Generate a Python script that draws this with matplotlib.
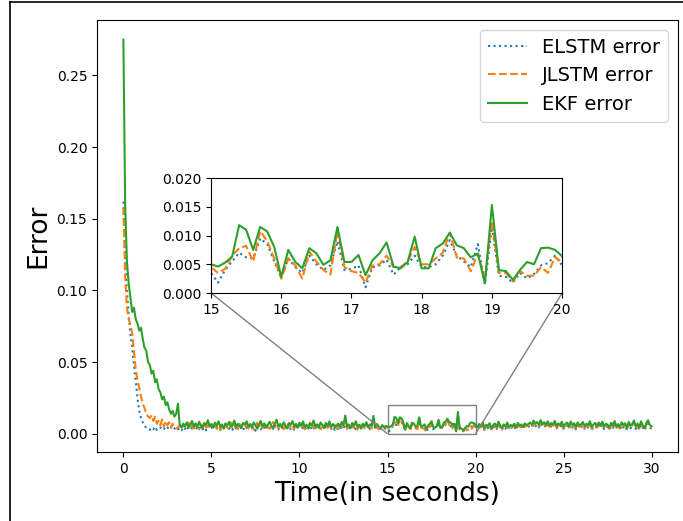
import numpy as np
import matplotlib
matplotlib.use("Agg")
import matplotlib.pyplot as plt
from matplotlib.lines import Line2D
from mpl_toolkits.axes_grid1.inset_locator import mark_inset

time = np.linspace(0, 30, 301)

ekf_error = [
    0.275, 0.160, 0.120, 0.105, 0.095, 0.085, 0.088, 0.080, 0.077, 0.072,
    0.074, 0.066, 0.060, 0.058, 0.050, 0.048, 0.042, 0.044, 0.036, 0.038,
    0.031, 0.029, 0.024, 0.026, 0.020, 0.022, 0.017, 0.014, 0.016, 0.012,
    0.014, 0.021,
    0.0060, 0.0045, 0.0070, 0.0052, 0.0080, 0.0041, 0.0065, 0.0090, 0.0050, 0.0072,
    0.0048, 0.0085, 0.0055, 0.0038, 0.0075, 0.0062, 0.0095, 0.0050, 0.0068, 0.0042,
    0.0078, 0.0055, 0.0088, 0.0047, 0.0065, 0.0036, 0.0072, 0.0058, 0.0083, 0.0049,
    0.0061, 0.0092, 0.0045, 0.0070, 0.0054, 0.0040, 0.0076, 0.0063, 0.0087, 0.0051,
    0.0068, 0.0044, 0.0079, 0.0058, 0.0035, 0.0066, 0.0090, 0.0052, 0.0073, 0.0047,
    0.0062, 0.0084, 0.0056, 0.0041, 0.0071, 0.0098, 0.0053, 0.0067, 0.0045, 0.0080,
    0.0059, 0.0038, 0.0074, 0.0063, 0.0089, 0.0050, 0.0069, 0.0043, 0.0077, 0.0056,
    0.0086, 0.0048, 0.0064, 0.0037, 0.0072, 0.0058, 0.0093, 0.0051, 0.0066, 0.0044,
    0.0079, 0.0061, 0.0040, 0.0075, 0.0055, 0.0087, 0.0049, 0.0068, 0.0046, 0.0057,
    0.0071, 0.0042, 0.0083, 0.0060, 0.0128, 0.0052, 0.0065, 0.0039, 0.0074, 0.0056,
    0.0088, 0.0047, 0.0063, 0.0036, 0.0070, 0.0054, 0.0081, 0.0045, 0.0066, 0.0058,
    0.0125, 0.0043, 0.0069, 0.0052, 0.0038, 0.0061, 0.0047, 0.0055,
    # 15.0 - 20.0
    0.0050, 0.0046, 0.0053, 0.0063, 0.0118, 0.0110, 0.0075, 0.0115, 0.0107, 0.0080,
    0.0028, 0.0075, 0.0054, 0.0043, 0.0078, 0.0069, 0.0049, 0.0057, 0.0115, 0.0054,
    0.0054, 0.0066, 0.0031, 0.0057, 0.0069, 0.0088, 0.0046, 0.0043, 0.0054, 0.0098,
    0.0043, 0.0043, 0.0078, 0.0086, 0.0105, 0.0083, 0.0078, 0.0062, 0.0069, 0.0017,
    0.0153, 0.0040, 0.0038, 0.0023, 0.0040, 0.0054, 0.0050, 0.0078, 0.0079, 0.0075,
    0.0064,
    # 20.1 - 30.0
    0.0045, 0.0068, 0.0052, 0.0080, 0.0041, 0.0063, 0.0055, 0.0074, 0.0038, 0.0060,
    0.0072, 0.0049, 0.0085, 0.0057, 0.0043, 0.0066, 0.0051, 0.0079, 0.0046, 0.0062,
    0.0054, 0.0070, 0.0042, 0.0076, 0.0059, 0.0065, 0.0048, 0.0073, 0.0061, 0.0068,
    0.0078, 0.0064, 0.0092, 0.0071, 0.0083, 0.0060, 0.0096, 0.0069, 0.0081, 0.0063,
    0.0087, 0.0058, 0.0075, 0.0066, 0.0090, 0.0055, 0.0072, 0.0062, 0.0084, 0.0050,
    0.0069, 0.0078, 0.0053, 0.0086, 0.0061, 0.0074, 0.0047, 0.0080, 0.0058, 0.0067,
    0.0082, 0.0052, 0.0071, 0.0060, 0.0088, 0.0045, 0.0066, 0.0076, 0.0054, 0.0079,
    0.0057, 0.0085, 0.0049, 0.0070, 0.0063, 0.0043, 0.0077, 0.0059, 0.0089, 0.0051,
    0.0068, 0.0046, 0.0080, 0.0062, 0.0074, 0.0040, 0.0083, 0.0056, 0.0069, 0.0093,
    0.0050, 0.0072, 0.0045, 0.0087, 0.0058, 0.0039, 0.0076, 0.0095, 0.0061, 0.0052,
]

jlstm_error = [
    0.158, 0.110, 0.088, 0.080, 0.076, 0.070, 0.058, 0.045, 0.037, 0.032,
    0.026, 0.021, 0.018, 0.014, 0.012, 0.011, 0.013, 0.009, 0.012, 0.007,
    0.009, 0.006, 0.010, 0.005, 0.009, 0.006, 0.008, 0.004, 0.007,
    0.0050, 0.0038, 0.0044, 0.0061, 0.0035, 0.0070, 0.0042, 0.0055, 0.0078, 0.0040,
    0.0063, 0.0037, 0.0072, 0.0048, 0.0031, 0.0066, 0.0052, 0.0080, 0.0043, 0.0058,
    0.0036, 0.0069, 0.0047, 0.0075, 0.0039, 0.0056, 0.0030, 0.0062, 0.0049, 0.0071,
    0.0041, 0.0053, 0.0079, 0.0038, 0.0060, 0.0046, 0.0033, 0.0067, 0.0054, 0.0074,
    0.0044, 0.0059, 0.0037, 0.0068, 0.0050, 0.0029, 0.0057, 0.0077, 0.0045, 0.0064,
    0.0040, 0.0053, 0.0072, 0.0048, 0.0035, 0.0061, 0.0082, 0.0046, 0.0058, 0.0039,
    0.0070, 0.0051, 0.0032, 0.0065, 0.0054, 0.0076, 0.0043, 0.0060, 0.0036, 0.0068,
    0.0049, 0.0073, 0.0041, 0.0056, 0.0031, 0.0063, 0.0050, 0.0079, 0.0044, 0.0057,
    0.0038, 0.0069, 0.0052, 0.0034, 0.0066, 0.0047, 0.0074, 0.0042, 0.0059, 0.0040,
    0.0050, 0.0062, 0.0036, 0.0071, 0.0053, 0.0045, 0.0057, 0.0098, 0.0033, 0.0064,
    0.0048, 0.0075, 0.0040, 0.0055, 0.0030, 0.0061, 0.0047, 0.0070, 0.0039, 0.0058,
    0.0051, 0.0045, 0.0037, 0.0102, 0.0060, 0.0044, 0.0032, 0.0053, 0.0041, 0.0049,
    0.0043,
    # 15.0 - 20.0
    0.0045, 0.0035, 0.0042, 0.0065, 0.0078, 0.0082, 0.0055, 0.0108, 0.0090, 0.0060,
    0.0025, 0.0060, 0.0048, 0.0025, 0.0072, 0.0055, 0.0040, 0.0032, 0.0108, 0.0045,
    0.0038, 0.0035, 0.0018, 0.0048, 0.0050, 0.0065, 0.0045, 0.0045, 0.0055, 0.0080,
    0.0050, 0.0050, 0.0060, 0.0070, 0.0105, 0.0062, 0.0060, 0.0038, 0.0068, 0.0025,
    0.0125, 0.0035, 0.0035, 0.0020, 0.0038, 0.0030, 0.0030, 0.0045, 0.0035, 0.0063,
    0.0052,
    # 20.1 - 30.0
    0.0038, 0.0055, 0.0044, 0.0068, 0.0033, 0.0052, 0.0047, 0.0063, 0.0030, 0.0050,
    0.0061, 0.0040, 0.0072, 0.0046, 0.0035, 0.0057, 0.0042, 0.0066, 0.0037, 0.0053,
    0.0045, 0.0060, 0.0034, 0.0064, 0.0049, 0.0055, 0.0039, 0.0062, 0.0052, 0.0058,
    0.0066, 0.0054, 0.0078, 0.0060, 0.0070, 0.0051, 0.0082, 0.0058, 0.0069, 0.0053,
    0.0074, 0.0048, 0.0063, 0.0056, 0.0077, 0.0045, 0.0061, 0.0052, 0.0071, 0.0041,
    0.0058, 0.0066, 0.0043, 0.0073, 0.0050, 0.0062, 0.0038, 0.0068, 0.0048, 0.0056,
    0.0070, 0.0042, 0.0060, 0.0050, 0.0075, 0.0036, 0.0055, 0.0064, 0.0044, 0.0067,
    0.0047, 0.0072, 0.0040, 0.0059, 0.0053, 0.0034, 0.0065, 0.0049, 0.0076, 0.0042,
    0.0057, 0.0037, 0.0068, 0.0052, 0.0062, 0.0032, 0.0071, 0.0046, 0.0058, 0.0080,
    0.0041, 0.0061, 0.0036, 0.0074, 0.0048, 0.0031, 0.0064, 0.0081, 0.0050, 0.0043,
]

elstm_error = [
    0.162, 0.120, 0.100, 0.083, 0.070, 0.060, 0.048, 0.037, 0.025, 0.016,
    0.011, 0.008, 0.006, 0.004,
    0.0035, 0.0028, 0.0042, 0.0031, 0.0050, 0.0026, 0.0038, 0.0045, 0.0030, 0.0040,
    0.0027, 0.0044, 0.0033, 0.0052, 0.0029, 0.0036, 0.0048, 0.0032, 0.0041, 0.0025,
    0.0046, 0.0034, 0.0055, 0.0030, 0.0043, 0.0037, 0.0060, 0.0028, 0.0049, 0.0035,
    0.0052, 0.0031, 0.0045, 0.0024, 0.0057, 0.0039, 0.0047, 0.0033, 0.0062, 0.0036,
    0.0044, 0.0027, 0.0053, 0.0040, 0.0032, 0.0058, 0.0035, 0.0048, 0.0029, 0.0051,
    0.0038, 0.0064, 0.0033, 0.0046, 0.0026, 0.0055, 0.0041, 0.0034, 0.0059, 0.0037,
    0.0049, 0.0022, 0.0043, 0.0056, 0.0031, 0.0047, 0.0036, 0.0061, 0.0039, 0.0028,
    0.0052, 0.0035, 0.0066, 0.0040, 0.0030, 0.0054, 0.0044, 0.0025, 0.0050, 0.0037,
    0.0058, 0.0033, 0.0046, 0.0029, 0.0053, 0.0041, 0.0062, 0.0034, 0.0045, 0.0027,
    0.0050, 0.0038, 0.0060, 0.0032, 0.0047, 0.0024, 0.0055, 0.0042, 0.0036, 0.0057,
    0.0031, 0.0048, 0.0039, 0.0063, 0.0035, 0.0051, 0.0028, 0.0044, 0.0034, 0.0053,
    0.0040, 0.0030, 0.0085, 0.0037, 0.0049, 0.0026, 0.0056, 0.0043, 0.0033, 0.0059,
    0.0038, 0.0046, 0.0029, 0.0054, 0.0041, 0.0063, 0.0032, 0.0047, 0.0090, 0.0036,
    0.0050, 0.0030, 0.0044, 0.0027, 0.0039, 0.0035,
    # 15.0 - 20.0
    0.0035, 0.0018, 0.0040, 0.0055, 0.0070, 0.0062, 0.0060, 0.0095, 0.0085, 0.0055,
    0.0028, 0.0060, 0.0045, 0.0035, 0.0065, 0.0050, 0.0040, 0.0048, 0.0090, 0.0040,
    0.0042, 0.0048, 0.0010, 0.0045, 0.0048, 0.0058, 0.0032, 0.0045, 0.0050, 0.0065,
    0.0045, 0.0045, 0.0050, 0.0065, 0.0092, 0.0065, 0.0055, 0.0045, 0.0085, 0.0015,
    0.0115, 0.0030, 0.0028, 0.0018, 0.0035, 0.0025, 0.0033, 0.0048, 0.0052, 0.0065,
    0.0048,
    # 20.1 - 30.0
    0.0033, 0.0048, 0.0038, 0.0060, 0.0028, 0.0045, 0.0040, 0.0055, 0.0025, 0.0043,
    0.0053, 0.0034, 0.0064, 0.0040, 0.0029, 0.0050, 0.0036, 0.0058, 0.0031, 0.0046,
    0.0039, 0.0052, 0.0028, 0.0056, 0.0042, 0.0048, 0.0033, 0.0054, 0.0045, 0.0050,
    0.0058, 0.0047, 0.0069, 0.0052, 0.0062, 0.0044, 0.0073, 0.0050, 0.0060, 0.0046,
    0.0065, 0.0041, 0.0055, 0.0048, 0.0068, 0.0038, 0.0053, 0.0045, 0.0062, 0.0035,
    0.0050, 0.0058, 0.0036, 0.0064, 0.0043, 0.0054, 0.0031, 0.0060, 0.0041, 0.0048,
    0.0062, 0.0035, 0.0052, 0.0043, 0.0066, 0.0029, 0.0047, 0.0056, 0.0037, 0.0059,
    0.0040, 0.0064, 0.0033, 0.0051, 0.0046, 0.0027, 0.0057, 0.0042, 0.0067, 0.0035,
    0.0049, 0.0030, 0.0060, 0.0044, 0.0054, 0.0026, 0.0063, 0.0039, 0.0050, 0.0071,
    0.0034, 0.0053, 0.0029, 0.0066, 0.0041, 0.0024, 0.0056, 0.0072, 0.0043, 0.0036,
]

labels = ["ELSTM error", "JLSTM error", "EKF error"]
zoom_x = (15, 20)
zoom_y = (0.0, 0.02)

fig = plt.figure(figsize=(6.83, 5.21), dpi=100)
ax = fig.add_axes([0.142, 0.1324, 0.8507, 0.8292])

series = [elstm_error, jlstm_error, ekf_error]
styles = [":", "--", "-"]
colors = ["#1f77b4", "#ff7f0e", "#2ca02c"]
for s, ls, c, lab in zip(series, styles, colors, labels):
    ax.plot(time, s, linestyle=ls, color=c, label=lab, linewidth=1.5)

ax.set_xlabel("Time(in seconds)", fontsize=19)
ax.set_ylabel("Error", fontsize=19)
ax.legend(loc="upper right", fontsize=14)

axins = fig.add_axes([0.309, 0.4376, 0.514, 0.2207])
for s, ls, c in zip(series, styles, colors):
    axins.plot(time, s, linestyle=ls, color=c, linewidth=1.5)
axins.set_xlim(*zoom_x)
axins.set_ylim(*zoom_y)
axins.set_yticks([0.0, 0.005, 0.01, 0.015, 0.02])
axins.set_yticklabels(["0.000", "0.005", "0.010", "0.015", "0.020"])
mark_inset(ax, axins, loc1=3, loc2=4, fc="none", ec="0.5")

# frame lines of the original screenshot
fig.add_artist(Line2D([0.0146, 0.0146], [0.0, 0.996], color="black", linewidth=1.2))
fig.add_artist(Line2D([0.0146, 1.0], [0.996, 0.996], color="black", linewidth=1.2))

fig.savefig("out.png", dpi=100)
